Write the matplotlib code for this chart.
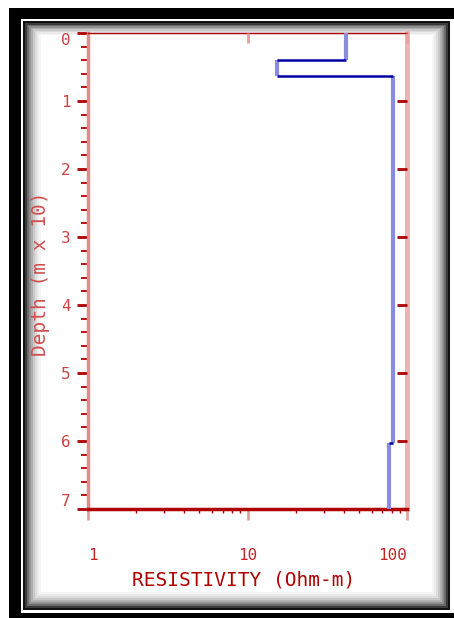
import numpy as np
import matplotlib
matplotlib.use('Agg')
import matplotlib.pyplot as plt
from matplotlib.patches import Rectangle

# layered model
resistivity = [41.2, 15.2, 81.7, 76.6]      # Ohm-m
layer_top = [0.0, 0.39, 0.63, 6.03]          # depth (m x 10)
layer_bot = [0.39, 0.63, 6.03, 7.0]

x_major = [1, 10, 100]
x_labels = ['1', '10', '100']
y_major = [0, 1, 2, 3, 4, 5, 6, 7]

W, H = 454, 618
dark = '#b00000'
pink = '#e4a0a0'
lblc = '#c02828'

fig = plt.figure(figsize=(W / 100, H / 100), dpi=100)
fig.patch.set_facecolor('white')

def px_rect(x0, y0, x1, y1, color):
    # rectangle in pixel coords measured from top-left
    fig.patches.append(Rectangle((x0 / W, 1 - y1 / H), (x1 - x0) / W, (y1 - y0) / H,
                                 transform=fig.transFigure, color=color, lw=0, zorder=-10))

# frame of the old screen dump
px_rect(9, 8, 460, 630, 'black')
px_rect(21, 19, 460, 613, 'white')
px_rect(23, 21, 450, 610, '#111111')
grads = ['#3a3a3a', '#6a6a6a', '#909090', '#b0b0b0', '#c8c8c8', '#dcdcdc', '#ebebeb', '#f6f6f6']
for i, c in enumerate(grads):
    px_rect(25 + 2 * i, 23 + 1.5 * i, 448 - 2 * i, 608 - 2 * i, c)
px_rect(41, 35, 432, 592, 'white')

ax = fig.add_axes([88 / W, 1 - 509 / H, (407 - 88) / W, (509 - 33) / H])
ax.set_facecolor('none')
ax.set_xscale('log')
ax.set_xlim(1, 100)
ax.set_ylim(7, 0)

# model curve: vertical parts light, steps dark
ax.vlines(resistivity, layer_top, layer_bot, color='#8c8cdc', lw=3, zorder=3)
ax.hlines(layer_bot[:-1], resistivity[:-1], resistivity[1:], color='#0000a8', lw=1.8, zorder=4)

ax.spines['left'].set_color('#e08c8c')
ax.spines['left'].set_linewidth(2.5)
ax.spines['right'].set_color('#e8b4b4')
ax.spines['right'].set_linewidth(3.5)
ax.spines['bottom'].set_color(dark)
ax.spines['bottom'].set_linewidth(2.5)
ax.spines['top'].set_color(dark)
ax.spines['top'].set_linewidth(1)

ax.set_xticks(x_major)
ax.set_xticklabels(x_labels)
ax.xaxis.set_minor_locator(matplotlib.ticker.LogLocator(base=10, subs=np.arange(2, 10)))
ax.xaxis.set_minor_formatter(matplotlib.ticker.NullFormatter())
ax.tick_params(axis='x', which='major', direction='out', length=8, width=2, color=pink,
               labelsize=11.5, labelcolor=lblc, pad=20)
ax.tick_params(axis='x', which='minor', direction='out', length=3, width=1, color=dark)
for lab in ax.get_xticklabels():
    lab.set_fontfamily('DejaVu Sans Mono')
xl = ax.get_xticklabels()
xl[0].set_ha('left')
xl[-1].set_ha('right')

ax.set_yticks(y_major)
ax.set_yticklabels([str(v) for v in y_major])
ax.yaxis.set_minor_locator(matplotlib.ticker.MultipleLocator(0.2))
ax.tick_params(axis='y', which='major', direction='out', length=8, width=2, color=dark,
               labelsize=11.5, labelcolor='#cc4444', pad=4.3)
ax.tick_params(axis='y', which='minor', direction='out', length=5, width=1.3, color=dark)
yl = ax.get_yticklabels()
for lab in yl:
    lab.set_fontfamily('DejaVu Sans Mono')
yl[0].set_va('top')
yl[-1].set_va('bottom')

# inward ticks on top and right edges
ax.vlines(x_major[1:], 1 - 10 / 476, 1, transform=ax.get_xaxis_transform(), color=pink,
          lw=2, clip_on=False, zorder=5)
ax.hlines(y_major[1:-1], 1 - 10 / 319, 1, transform=ax.get_yaxis_transform(), color=dark,
          lw=2, clip_on=False, zorder=5)

ax.set_xlabel('RESISTIVITY (Ohm-m)', fontsize=14, color=dark, family='DejaVu Sans Mono')
ax.xaxis.set_label_coords((244 - 88) / 319, (509 - 571) / 476)
ax.set_ylabel('Depth (m x 10)', fontsize=14, color='#d05050', family='DejaVu Sans Mono')
ax.yaxis.set_label_coords((50 - 88) / 319, 1 - (274 - 33) / 476)

fig.savefig('out.png', dpi=100)
